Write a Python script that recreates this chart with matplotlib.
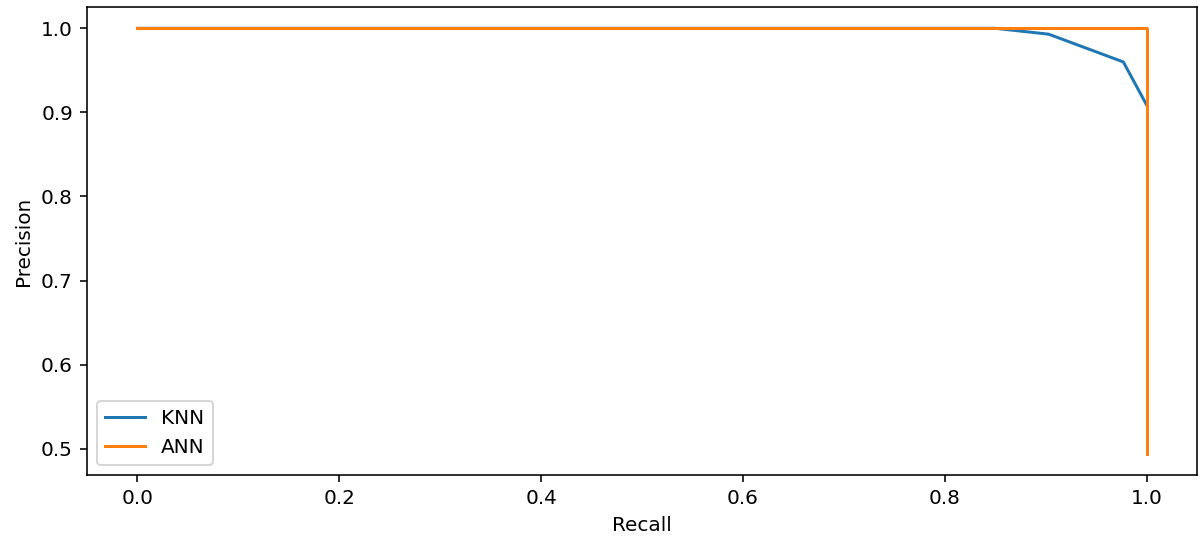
import matplotlib
matplotlib.use('Agg')
import matplotlib.pyplot as plt

# Precision-recall points
knn_recall = [0.0, 0.85, 0.903, 0.977, 1.0]
knn_precision = [1.0, 1.0, 0.993, 0.960, 0.909]

ann_recall = [0.0, 1.0, 1.0]
ann_precision = [1.0, 1.0, 0.494]

fig = plt.figure(figsize=(1200 / 144, 541 / 144), dpi=144)
ax = fig.add_axes([0.0725, 0.122, 0.925, 0.865])

ax.plot(knn_recall, knn_precision, label='KNN')
ax.plot(ann_recall, ann_precision, label='ANN')

ax.set_xlabel('Recall')
ax.set_ylabel('Precision')
ax.legend(loc='lower left')

fig.savefig('out.png', dpi=144)
